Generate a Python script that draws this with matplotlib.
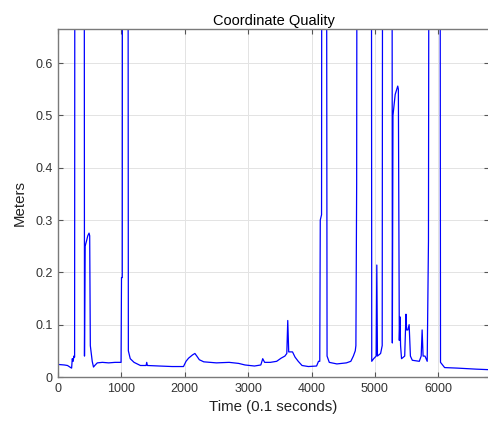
import matplotlib.pyplot as plt

plt.rcParams["font.family"] = ["Liberation Sans", "DejaVu Sans"]

TOP = 1.5  # spikes go off the top of the axes

time = [0, 100, 150, 200, 215, 225, 240, 250, 262, 268, 285, 412, 418, 428, 450, 470,
        490, 500, 510, 520, 540, 560, 580, 620, 700, 800, 900, 995, 1002, 1014, 1018,
        1102, 1110, 1140, 1200, 1300, 1390, 1400, 1410, 1600, 1800, 1980, 2020, 2060,
        2120, 2160, 2190, 2230, 2300, 2500, 2700, 2850, 2950, 3100, 3200, 3230, 3260,
        3350, 3450, 3520, 3580, 3610, 3625, 3640, 3700, 3740, 3790, 3850, 3950, 4080,
        4110, 4130, 4138, 4158, 4165, 4232, 4245, 4280, 4400, 4550, 4620, 4660, 4690,
        4700, 4712, 4722, 4942, 4950, 4980, 5020, 5030, 5040, 5090, 5115, 5125, 5268,
        5275, 5285, 5320, 5360, 5370, 5385, 5395, 5405, 5420, 5470, 5490, 5500, 5520,
        5540, 5560, 5590, 5700, 5730, 5745, 5760, 5790, 5825, 5845, 5858, 6025, 6035,
        6100, 6300, 6600, 6800]
meters = [0.024, 0.023, 0.022, 0.018, 0.017, 0.035, 0.030, 0.040, 0.038, TOP, TOP, TOP,
          0.040, 0.250, 0.260, 0.270, 0.275, 0.270, 0.060, 0.050, 0.030, 0.019, 0.022,
          0.027, 0.028, 0.027, 0.028, 0.028, 0.190, 0.190, TOP, TOP, 0.050, 0.035, 0.028,
          0.022, 0.022, 0.028, 0.022, 0.021, 0.020, 0.020, 0.030, 0.036, 0.042, 0.045,
          0.040, 0.033, 0.029, 0.027, 0.028, 0.026, 0.023, 0.021, 0.023, 0.035, 0.028,
          0.028, 0.030, 0.036, 0.040, 0.045, 0.108, 0.048, 0.048, 0.038, 0.030, 0.022,
          0.020, 0.021, 0.030, 0.030, 0.300, 0.310, TOP, TOP, 0.040, 0.028, 0.025, 0.027,
          0.030, 0.040, 0.050, 0.060, 0.370, TOP, TOP, 0.030, 0.035, 0.040, 0.214, 0.040,
          0.045, 0.060, TOP, TOP, 0.065, 0.500, 0.540, 0.556, 0.550, 0.070, 0.115, 0.060,
          0.035, 0.040, 0.120, 0.090, 0.090, 0.100, 0.040, 0.032, 0.030, 0.040, 0.090,
          0.040, 0.040, 0.030, 0.260, TOP, TOP, 0.028, 0.018, 0.017, 0.015, 0.014]

xticks = [0, 1000, 2000, 3000, 4000, 5000, 6000]
yticks = [0, 0.1, 0.2, 0.3, 0.4, 0.5, 0.6]

fig = plt.figure(figsize=(4.89, 4.21), dpi=100)
ax = fig.add_axes([0.1186, 0.1045, 0.8814, 0.8265])

ax.plot(time, meters, color="#0000ff", linewidth=0.9)

ax.set_xlim(0, 6800)
ax.set_ylim(0, 0.665)
ax.set_xticks(xticks)
ax.set_yticks(yticks)
ax.set_yticklabels(["0", "0.1", "0.2", "0.3", "0.4", "0.5", "0.6"])
ax.grid(True, color="#e3e3e3", linewidth=0.7)
ax.set_axisbelow(True)

for s in ax.spines.values():
    s.set_color("#7a7a7a")
    s.set_linewidth(1.0)
ax.tick_params(direction="in", top=True, right=True, length=3.5, width=0.8,
               color="#555555", labelsize=9, labelcolor="#333333", pad=4)

ax.set_title("Coordinate Quality", fontsize=10.5, pad=3)
ax.set_xlabel("Time (0.1 seconds)", fontsize=10.8, color="#222222", labelpad=4)
ax.set_ylabel("Meters", fontsize=10.8, color="#222222", labelpad=6)

fig.savefig("out.png", dpi=100)
